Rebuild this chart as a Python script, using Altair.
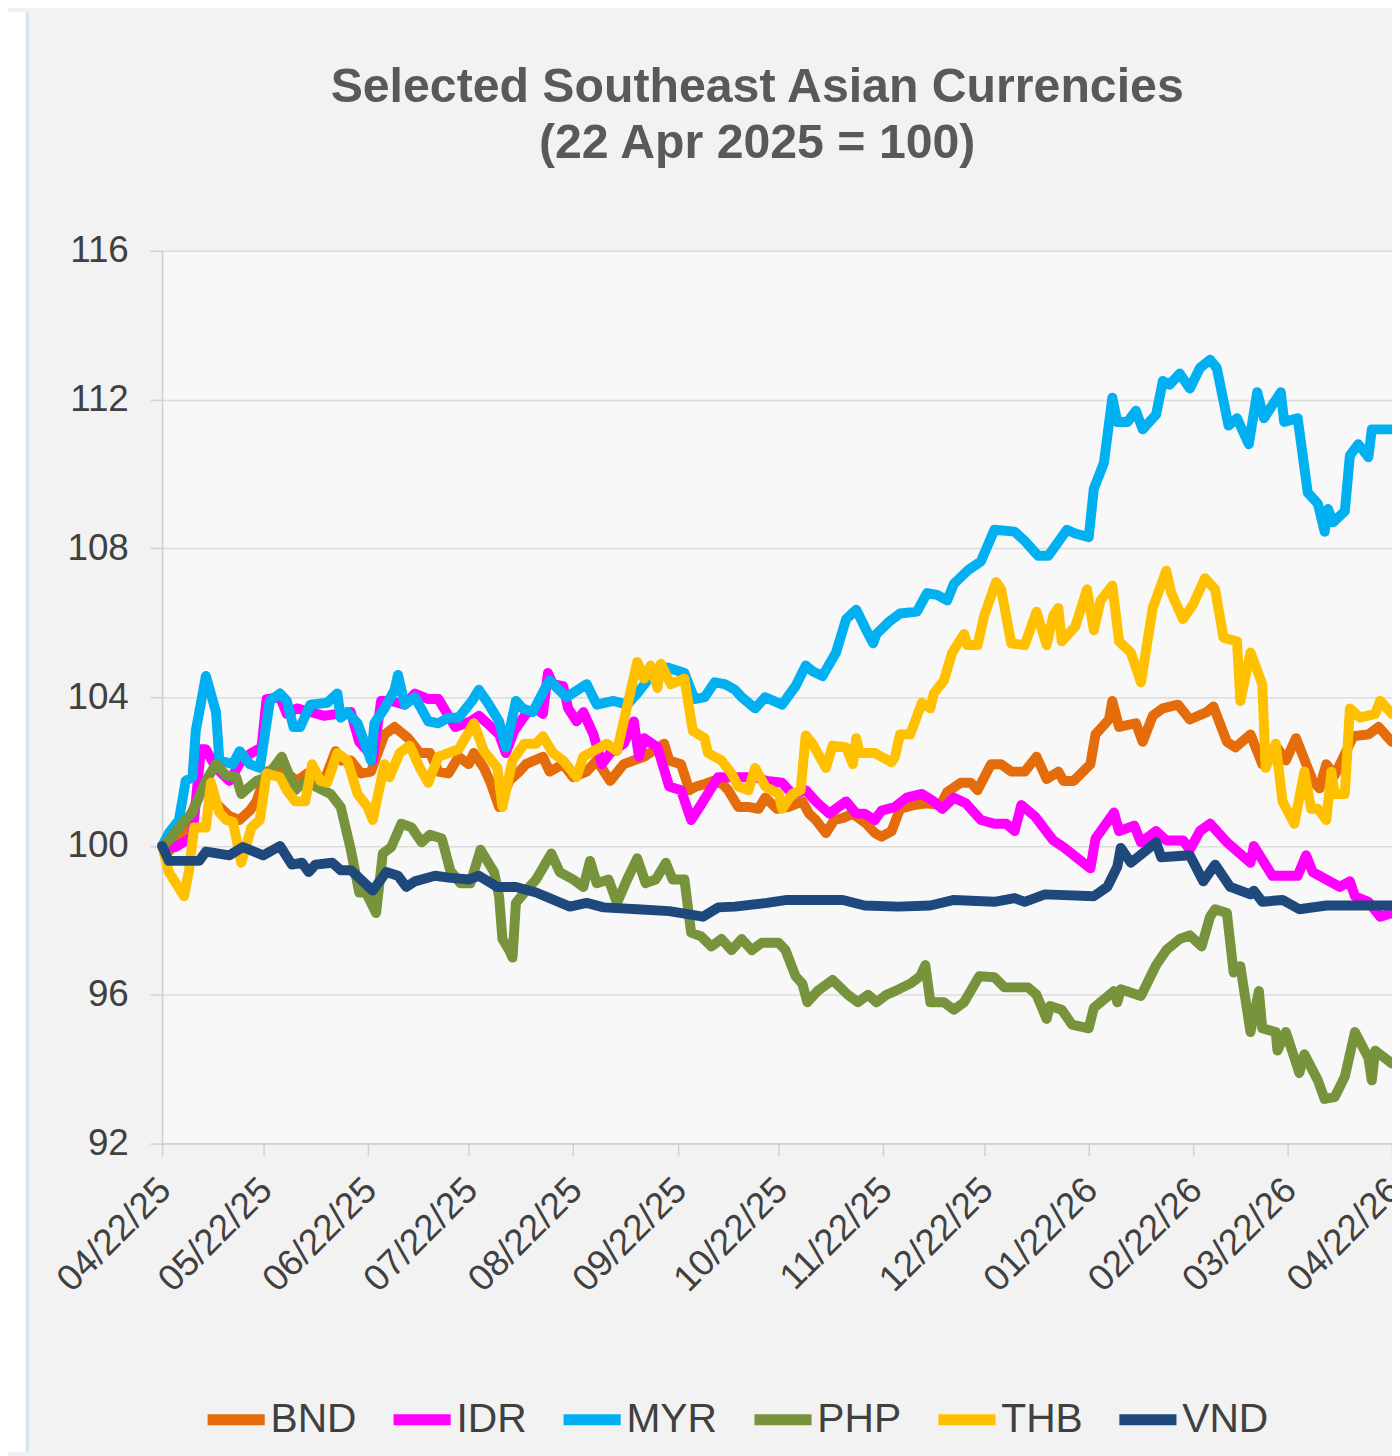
import altair as alt
import pandas as pd

START = "2025-04-22"
SERIES = ["BND", "IDR", "MYR", "PHP", "THB", "VND"]
COLORS = ["#E46C0A", "#FF00FF", "#00B0F0", "#77933C", "#FFC000", "#1F497D"]
TITLE = ["Selected Southeast Asian Currencies", "(22 Apr 2025 = 100)"]
Y_TICKS = [92, 96, 100, 104, 108, 112, 116]
X_TICK_MONTHS = [(2025, m) for m in range(4, 13)] + [(2026, m) for m in range(1, 5)]

# (days since 22 Apr 2025, index value)
BND = [(0,100.0),(2.5,99.9),(6,100.35),(9.5,101.05),(13,101.75),(16,101.15),(20,100.8),(23,100.7),(26,100.95),(28,101.2),(31,102.0),(35,102.1),(40,101.75),(43,101.95),(45.5,101.85),(48.5,101.85),(51.5,102.55),(53,102.3),(56,102.3),(59,101.95),(62,102.0),(66,103.0),(69,103.2),(73,102.9),(76.5,102.5),(79.5,102.5),(82,102.0),(85,101.95),(88,102.4),(91,102.2),(92.5,102.5),(95.5,102.1),(97.5,101.7),(100,101.05),(103,101.75),(106,102.0),(108,102.2),(113,102.4),(115,102.0),(119,102.2),(122,101.85),(126,102.0),(129,102.3),(133,101.75),(137,102.2),(143,102.4),(149,102.75),(150.5,102.3),(154,102.2),(156.5,101.5),(158.5,101.6),(160.5,101.65),(163.5,101.75),(166.5,101.65),(168,101.5),(171,101.05),(174,101.05),(177,101.0),(179,101.3),(182.5,101.0),(186,101.05),(190,101.2),(192,100.87),(194,100.7),(197,100.35),(199.5,100.7),(202,100.75),(205,100.87),(209,100.6),(211.5,100.35),(213.5,100.25),(216.5,100.4),(219,101.0),(223,101.1),(227,101.15),(231,101.1),(233,101.45),(237,101.7),(240,101.7),(242,101.5),(246,102.2),(249,102.2),(252,102.0),(256,102.0),(259.5,102.4),(262.5,101.8),(266,102.0),(267.5,101.75),(270.5,101.75),(275.5,102.2),(277,103.0),(281,103.4),(282,103.9),(284,103.2),(289,103.3),(291,102.8),(294,103.5),(297,103.7),(301.5,103.8),(305,103.4),(310,103.6),(312,103.75),(316,102.8),(318.5,102.65),(323,103.0),(326.5,102.2),(330.5,102.7),(333.5,102.3),(336.5,102.9),(341.5,101.75),(343.5,101.55),(345.5,102.2),(348,101.9),(353.5,102.95),(358,103.0),(361,103.2),(365,102.8)]

IDR = [(0,100.0),(4,99.97),(9,100.25),(11.5,102.6),(13,102.6),(16,102.1),(20,101.75),(23.5,102.3),(26.5,102.5),(29.5,102.65),(31,103.95),(35,104.0),(37,103.55),(40,103.7),(44,103.6),(48,103.5),(52,103.55),(56,103.6),(58.5,102.8),(61,102.55),(62.5,102.3),(65,103.9),(68,103.9),(72,103.8),(75,104.1),(79,103.95),(82,103.95),(87,103.2),(91.5,103.35),(94,103.5),(96.5,103.3),(100,103.0),(102,102.5),(104.5,103.1),(108,103.55),(111,103.7),(113,103.55),(114.5,104.65),(116,104.35),(119,104.3),(120.5,103.7),(123,103.35),(125,103.6),(128,103.0),(130.5,102.2),(133,102.5),(137,102.75),(140,103.35),(141.5,102.4),(143,102.9),(147,102.65),(150.5,101.6),(154,101.5),(157,100.7),(159.5,101.05),(165,101.85),(170,101.85),(176,101.85),(179.5,101.75),(184,101.7),(187,101.4),(191,101.5),(194,101.2),(198,100.87),(203,101.2),(206,100.87),(208.5,100.87),(211.5,100.7),(213.5,100.95),(217.5,101.05),(221,101.3),(225.5,101.4),(229,101.2),(231.5,101.0),(235,101.3),(238.5,101.15),(243,100.7),(247,100.6),(250.5,100.6),(253,100.4),(255,101.1),(259,100.8),(264.5,100.15),(267.5,99.97),(275.5,99.4),(277,100.2),(282.5,100.9),(284,100.4),(288.5,100.55),(290.5,100.1),(295,100.4),(298,100.15),(303,100.15),(305,99.9),(308,100.4),(311,100.6),(316,100.1),(323,99.55),(324,100.0),(329.5,99.2),(337,99.2),(339.5,99.75),(341.5,99.3),(349.5,98.9),(352.5,99.05),(354,98.65),(358,98.5),(361.5,98.1),(365,98.2)]

MYR = [(0,100.0),(2,100.35),(5,100.7),(7,101.75),(9,101.85),(10,103.1),(13,104.57),(16,103.6),(17,102.3),(21,102.2),(23,102.55),(26,102.2),(29,102.1),(32,103.9),(35,104.1),(37,103.9),(39,103.2),(41,103.2),(44,103.8),(49,103.85),(52,104.1),(53,103.45),(55,103.6),(58,103.3),(62,102.3),(63,103.3),(66,103.7),(69,104.2),(70,104.6),(72,103.8),(75,104.0),(79,103.35),(82,103.3),(85,103.45),(88,103.45),(92,103.9),(94,104.2),(97,103.8),(100,103.35),(102,102.65),(105,103.9),(107,103.7),(110,103.6),(114,104.3),(115,104.45),(120,104.0),(126,104.35),(129,103.8),(134,103.9),(138,103.8),(141,104.1),(144,104.45),(150,104.8),(155,104.65),(158,103.95),(161,104.0),(164,104.4),(167,104.35),(170,104.2),(172,104.0),(176,103.7),(179,104.0),(184,103.8),(188,104.3),(191,104.85),(193,104.7),(196,104.57),(200,105.2),(203,106.1),(206,106.35),(209,105.8),(211,105.45),(212,105.7),(216,106.05),(219,106.25),(224,106.3),(227,106.8),(230,106.75),(233,106.6),(235,107.05),(239,107.4),(243,107.65),(247,108.5),(253,108.45),(256,108.2),(260,107.8),(263,107.8),(268.5,108.5),(271,108.4),(275,108.3),(276.5,109.6),(279.5,110.3),(282,112.05),(283.5,111.4),(286.5,111.4),(289,111.7),(291,111.2),(295,111.6),(297,112.5),(299,112.4),(302,112.7),(305,112.3),(308,112.85),(311,113.07),(313,112.85),(316.5,111.3),(319,111.5),(322.5,110.8),(325,112.2),(327,111.5),(332,112.2),(333,111.4),(337,111.5),(340,109.5),(343,109.2),(345,108.45),(346,109.06),(347.5,108.7),(351,109.0),(352.5,110.5),(355,110.8),(358,110.45),(359,111.2),(365,111.2)]

PHP = [(0,100.0),(2,100.15),(5,100.5),(9,100.9),(13,101.75),(16,102.2),(19,101.9),(22,101.85),(23.5,101.4),(28,101.75),(31,101.85),(35.5,102.4),(39.5,101.5),(42.5,101.75),(45.5,101.6),(50,101.4),(53,101.05),(56,99.9),(58.5,98.75),(60.5,98.75),(63.5,98.2),(65.5,99.8),(68,99.97),(71,100.6),(74,100.5),(77,100.1),(79.5,100.3),(83,100.2),(85.5,99.35),(88.5,99.0),(91.5,99.0),(94.5,99.9),(98.5,99.3),(100,98.65),(101,97.5),(103,97.2),(104,97.0),(105,98.47),(108,98.8),(111,99.1),(115.5,99.8),(118,99.3),(122,99.1),(125,98.9),(127,99.6),(129,99.0),(132.5,99.1),(135,98.47),(138,99.1),(141,99.67),(143.5,99.0),(146.5,99.1),(149.5,99.55),(151.5,99.1),(155,99.1),(157,97.67),(160,97.57),(163,97.3),(166,97.5),(169,97.2),(172,97.5),(175,97.2),(178,97.4),(183,97.4),(185,97.2),(188,96.5),(190,96.3),(191.5,95.8),(194.5,96.1),(199,96.4),(203.5,96.0),(206.5,95.8),(209.5,96.0),(212,95.8),(215,96.0),(217.5,96.1),(222,96.3),(225,96.5),(226.5,96.8),(228,95.8),(232,95.8),(235,95.6),(238,95.8),(242.5,96.5),(247,96.47),(250,96.2),(257,96.2),(259.5,96.0),(262.5,95.35),(263.5,95.7),(267,95.6),(270,95.2),(275,95.1),(276.5,95.65),(282.5,96.1),(283.5,95.8),(284.5,96.15),(290.5,95.97),(295,96.8),(298,97.2),(302,97.5),(305,97.6),(308.5,97.3),(311,98.1),(312.5,98.3),(316,98.2),(318,96.6),(320,96.77),(323,95.0),(325.5,96.1),(326.5,95.1),(330.5,95.0),(331,94.5),(333.5,95.0),(337.5,93.9),(339,94.4),(343,93.7),(345,93.2),(348,93.25),(351,93.8),(354,95.0),(358,94.3),(359,93.7),(360,94.5),(365,94.15)]

THB = [(0,100.0),(2,99.3),(6.5,98.65),(8,99.35),(9.5,100.5),(13,100.5),(14.5,101.7),(17,100.9),(19,100.7),(21,100.65),(23.5,99.55),(26.5,100.5),(29,100.7),(31,101.95),(35,101.85),(37,101.5),(39.5,101.2),(42.5,101.2),(44.5,102.2),(47,101.75),(49,101.7),(52,102.5),(55,102.3),(58,101.4),(61,101.05),(62.5,100.7),(66,102.2),(67.5,101.85),(70.5,102.5),(73.5,102.7),(76.5,102.1),(79,101.7),(82,102.4),(85,102.5),(88,102.6),(92.5,103.3),(95.5,102.55),(99.5,102.1),(101,101.05),(104,102.3),(107.5,102.75),(111,102.75),(113,102.95),(116,102.5),(119,102.3),(123,101.85),(125,102.4),(128,102.55),(132,102.75),(135,102.55),(137,103.35),(141,104.95),(143,104.5),(145,104.85),(147,104.25),(148,104.9),(151,104.35),(155,104.5),(157.5,103.1),(161,102.9),(162,102.5),(166,102.3),(169,101.95),(171,101.6),(174,101.5),(176,102.1),(179,101.6),(183,101.4),(184,101.0),(187,101.4),(189.5,101.5),(191,102.97),(193,102.75),(197,102.1),(199,102.7),(203,102.65),(205,102.2),(206,102.9),(207,102.5),(211.5,102.5),(216.5,102.25),(217.5,102.4),(219,103.0),(222,103.0),(225.5,103.85),(228,103.7),(229,104.1),(232,104.45),(234.5,105.2),(238,105.7),(239,105.4),(242,105.4),(244,106.2),(247.5,107.1),(249,106.9),(252,105.45),(256,105.4),(259.5,106.3),(262.5,105.4),(264.5,106.2),(266,106.4),(267,105.5),(271,105.9),(274.5,106.9),(276.5,105.8),(278.5,106.6),(282,107.0),(284,105.5),(287.5,105.2),(290.5,104.4),(294,106.4),(298,107.4),(299.5,106.8),(303,106.1),(306,106.5),(309.5,107.2),(312.5,106.9),(315,105.6),(319,105.5),(320,103.9),(323,105.2),(326.5,104.35),(327.5,102.1),(330.5,102.75),(332.5,101.2),(336,100.6),(339,102.0),(341,101.0),(343,101.0),(345.5,100.7),(347,102.0),(348,101.4),(351,101.4),(352.5,103.7),(355.5,103.45),(360,103.55),(361.5,103.9),(365,103.55)]

VND = [(0,100.0),(2,99.6),(6,99.6),(11,99.6),(13,99.85),(20,99.75),(24,99.97),(30,99.75),(35,100.0),(38.5,99.5),(41.5,99.55),(43.5,99.3),(45.5,99.5),(50.5,99.55),(53,99.35),(56,99.35),(62.5,98.8),(66.5,99.3),(70,99.2),(72.5,98.9),(75,99.05),(81,99.2),(85,99.15),(91,99.1),(94,99.2),(99.5,98.9),(105,98.9),(111,98.75),(121,98.37),(126,98.47),(131,98.35),(141,98.3),(150.5,98.25),(160.5,98.1),(165,98.35),(170,98.37),(179.5,98.47),(185.5,98.55),(195.5,98.55),(202,98.55),(208.5,98.4),(218.5,98.37),(228,98.4),(235,98.55),(247,98.5),(253,98.6),(256,98.5),(262,98.7),(276.5,98.65),(280.5,98.9),(283.5,99.45),(284.5,99.95),(287.5,99.55),(295,100.1),(296.5,99.7),(305,99.75),(309,99.05),(312.5,99.5),(317,98.9),(323,98.7),(324,98.8),(326.5,98.5),(332.5,98.55),(337.5,98.3),(345.5,98.4),(365,98.4)]

start = pd.Timestamp(START)
rows = []
for name, pts in zip(SERIES, [BND, IDR, MYR, PHP, THB, VND]):
    for d, v in pts:
        rows.append({"date": start + pd.Timedelta(days=d), "cur": name, "v": v})
df = pd.DataFrame(rows)

PLOT_W, PLOT_H = 1237, 898
PAD_L, PAD_T, PAD_B = 155, 240, 310

x_ticks = [alt.DateTime(year=y, month=m, date=22) for y, m in X_TICK_MONTHS]

lines = alt.Chart(df).mark_line(strokeWidth=10, strokeJoin="round", strokeCap="round").encode(
    x=alt.X("date:T",
            scale=alt.Scale(domain=[alt.DateTime(year=2025, month=4, date=22),
                                    alt.DateTime(year=2026, month=4, date=22)]),
            axis=alt.Axis(values=x_ticks, format="%m/%d/%y", labelAngle=-45, title=None,
                          grid=False, tickSize=12, labelPadding=16, labelOffset=-10,
                          labelOverlap=False)),
    y=alt.Y("v:Q", scale=alt.Scale(domain=[92, 116], nice=False, zero=False),
            axis=alt.Axis(values=Y_TICKS, title=None, grid=True, tickSize=12, labelPadding=22)),
    color=alt.Color("cur:N", scale=alt.Scale(domain=SERIES, range=COLORS),
                    legend=alt.Legend(title=None, orient="none", legendX=40, legendY=1141,
                                      direction="horizontal", symbolType="stroke",
                                      symbolSize=3300, symbolStrokeWidth=11,
                                      labelFontSize=41, labelFont="Liberation Sans",
                                      labelColor="#404040", columnPadding=14, labelOffset=0,
                                      padding=0)),
)

one = pd.DataFrame({"k": [0]})
strip = alt.Chart(one).mark_rect(color="white").encode(
    x=alt.value(-PAD_L), x2=alt.value(-137), y=alt.value(-PAD_T), y2=alt.value(PLOT_H + PAD_B))
edge = alt.Chart(one).mark_rect(color="#d3e2ea").encode(
    x=alt.value(-137), x2=alt.value(-134), y=alt.value(-PAD_T), y2=alt.value(PLOT_H + PAD_B))

chart = alt.layer(strip, edge, lines).properties(
    width=PLOT_W, height=PLOT_H,
    autosize=alt.AutoSizeParams(type="none"),
    padding={"left": PAD_L, "top": PAD_T, "right": 0, "bottom": PAD_B},
    background="#f2f2f2",
    title=alt.TitleParams(TITLE, fontSize=48.5, font="Liberation Sans", fontWeight="bold",
                          color="#595959", anchor="middle", dx=-20, dy=157, offset=0,
                          lineHeight=56),
).configure_view(fill="#f8f8f8", stroke=None).configure_axis(
    domainColor="#d0d0d0", domainWidth=1.5, tickColor="#d0d0d0", tickWidth=1.5,
    gridColor="#dcdcdc", gridWidth=1.5, labelFont="Liberation Sans", labelFontSize=37,
    labelColor="#404040",
)

chart.save("out.html", embed_options={"renderer": "svg", "actions": False})
